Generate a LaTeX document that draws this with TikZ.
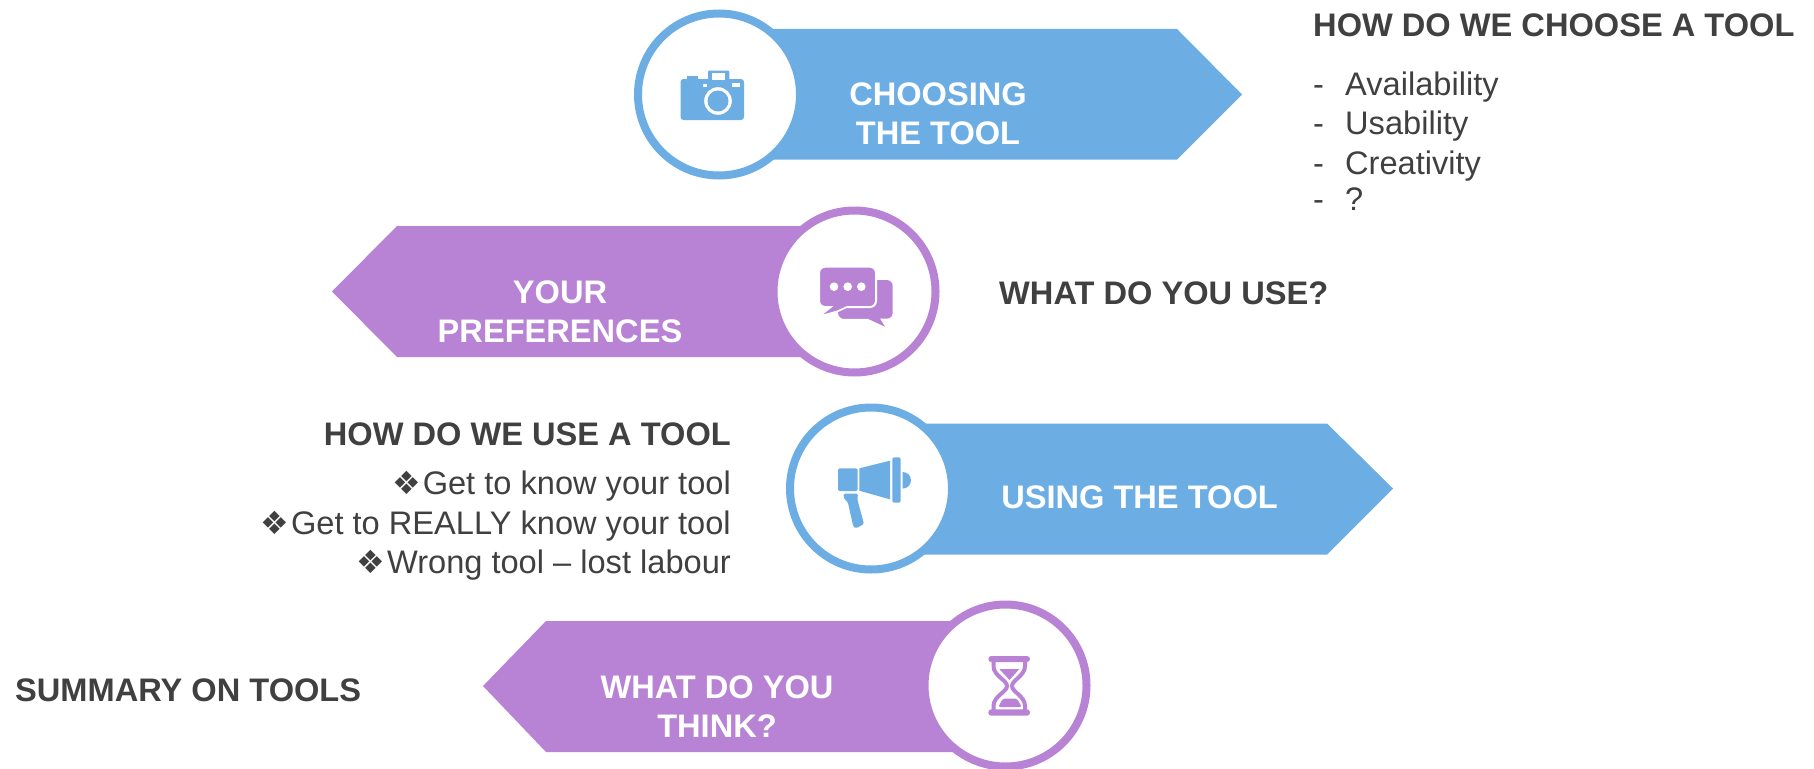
\documentclass[tikz,border=0pt]{standalone}
\usepackage{fontspec}
\setmainfont{Liberation Sans}
\newfontfamily\dingfont{DejaVu Sans}
\definecolor{toolblue}{HTML}{6CAEE4}
\definecolor{toolpurple}{HTML}{B883D5}
\definecolor{slategrey}{HTML}{404040}
\newcommand{\bul}{{\dingfont\fontsize{32}{32}\selectfont ❖}\hspace{1.5pt}}
\newcommand{\dashitem}[1]{\makebox[32pt][l]{-}#1}
\tikzset{
  iconring/.style={circle,draw=#1,fill=white,line width=8pt,minimum size=162pt,inner sep=0pt},
  title/.style={font=\fontsize{32.6}{39}\selectfont\bfseries,text=white,align=center,inner sep=0pt},
  head/.style={font=\fontsize{32.6}{39}\selectfont\bfseries,text=slategrey,inner sep=0pt},
  item/.style={font=\fontsize{32.6}{39}\selectfont,text=slategrey,inner sep=0pt}
}

\begin{document}
\begin{tikzpicture}[x=1pt,y=-1pt]
  \useasboundingbox (0,0) rectangle (1814,768);
  % Arrows
  \fill [toolblue] (719,29) -- (1177,29) -- (1242,94.5) -- (1177,159.5) -- (719,159.5) -- cycle;
  \fill [toolpurple] (854,226) -- (397,226) -- (332,291.5) -- (397,357) -- (854,357) -- cycle;
  \fill [toolblue] (871,423.5) -- (1327,423.5) -- (1393,488.5) -- (1327,554.5) -- (871,554.5) -- cycle;
  \fill [toolpurple] (1005,621) -- (546,621) -- (483,686) -- (546,752) -- (1005,752) -- cycle;

  \node[iconring=toolblue] (choosering) at (719,94.5) {};
  \node[iconring=toolpurple] (prefring) at (854.5,291.5) {};
  \node[iconring=toolblue] (usingring) at (871,488.5) {};
  \node[iconring=toolpurple] (thinkring) at (1005.5,685.5) {};

  % Camera
  \fill [toolblue,rounded corners=3pt] (680.5,79) rectangle (744,120);
  \fill [toolblue] (686.5,76) rectangle (697.5,82);
  \fill [toolblue,rounded corners=1pt] (708,70.7) rectangle (729.4,82);
  \fill [white] (712,72.7) rectangle (725,80);
  \fill [white] (702.5,83.7) rectangle (707,87.3);
  \fill [white] (732,83) rectangle (740,87.3);
  \fill [white] (718,101) circle (13.8);
  \fill [toolblue] (718,101) circle (10.5);

  % Speech bubbles
  \fill [toolpurple,rounded corners=6pt] (838,280) rectangle (892.7,318.7);
  \fill [toolpurple] (864,317) -- (885,326.7) -- (879,317) -- cycle;
  \fill [toolpurple] (838,310) -- (842,318.7) -- (866,318.7) -- (866,310) -- cycle;
  \draw [white,line width=2pt,fill=toolpurple,rounded corners=6pt] (819,266.7) rectangle (876,307);
  \fill [white] (835,306) -- (821,315.5) -- (838,312) -- (851,306) -- cycle;
  \fill [toolpurple] (835,305) -- (823.3,314.3) -- (837,310.5) -- (849,305) -- cycle;
  \fill [white] (834,286.7) circle (4.3) (847.7,286.7) circle (4.3) (861.3,286.7) circle (4.3);

  % Megaphone
  \fill [toolblue,rounded corners=2pt] (838,468.3) rectangle (857.7,491);
  \fill [toolblue] (859.3,468.3) -- (890,460.7) -- (890,499.3) -- (859.3,490.7) -- cycle;
  \fill [toolblue,rounded corners=2pt] (892.3,457.3) rectangle (900.7,502.7);
  \fill [toolblue] (902.7,472) arc (-90:90:8.3) -- cycle;
  \fill [toolblue,rounded corners=1.5pt] (843.3,493.7) -- (858,493.7) -- (857.3,499.3) -- (864,524) -- (856,528.3) -- (853.3,526.7) -- (847.7,501.7) -- (844.3,499.3) -- cycle;

  % Hourglass
  \fill [toolpurple,rounded corners=3pt] (988.3,656) rectangle (1030,662);
  \fill [toolpurple,rounded corners=3pt] (988.3,709.3) rectangle (1030,715.7);
  \draw [toolpurple,line width=4pt] (993.5,661) -- (993.5,666) .. controls (993.5,676) and (1007,680) .. (1007,686) .. controls (1007,692) and (993.5,696) .. (993.5,706) -- (993.5,710);
  \draw [toolpurple,line width=4pt] (1025,661) -- (1025,666) .. controls (1025,676) and (1012,680) .. (1012,686) .. controls (1012,692) and (1025,696) .. (1025,706) -- (1025,710);
  \fill [toolpurple] (999.3,669) -- (1019.3,669) -- (1009.5,680) -- cycle;
  \fill [toolpurple,rounded corners=1.5pt] (998.3,707) -- (1021.7,707) -- (1017,698.7) -- (1002.7,698.7) -- cycle;

  % Arrow titles
  \node[title] (choosetitle) at (938,114) {CHOOSING\\THE TOOL};
  \node[title] (preftitle) at (560,311.5) {YOUR\\PREFERENCES};
  \node[title,anchor=base] (usingtitle) at (1139.5,508.5) {USING THE TOOL};
  \node[title] (thinktitle) at (717,706.5) {WHAT DO YOU\\THINK?};

  % Texts beside the arrows
  \node[head,anchor=base west] (choosehead) at (1313,37) {HOW DO WE CHOOSE A TOOL};
  \node[item,anchor=base west] (avail) at (1313,95) {\dashitem{Availability}};
  \node[item,anchor=base west] (usab) at (1313,134) {\dashitem{Usability}};
  \node[item,anchor=base west] (creat) at (1313,174) {\dashitem{Creativity}};
  \node[item,anchor=base west] (other) at (1313,210) {\dashitem{?}};

  \node[head,anchor=base west] (prefhead) at (999,304) {WHAT DO YOU USE?};

  \node[head,anchor=base east] (usinghead) at (731,445) {HOW DO WE USE A TOOL};
  \node[item,anchor=base east] (know) at (731,494) {\bul Get to know your tool};
  \node[item,anchor=base east] (really) at (731,534) {\bul Get to REALLY know your tool};
  \node[item,anchor=base east] (wrong) at (731,573) {\bul Wrong tool – lost labour};

  \node[head,anchor=base west] (summary) at (15,701) {SUMMARY ON TOOLS};
\end{tikzpicture}
\end{document}
